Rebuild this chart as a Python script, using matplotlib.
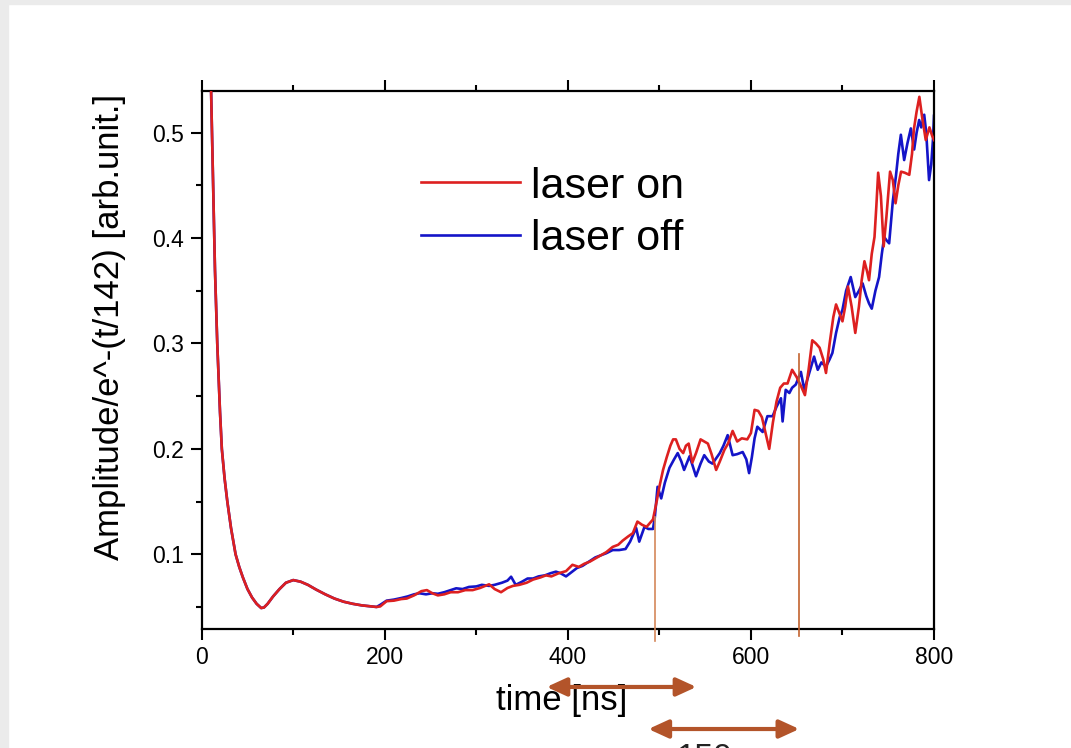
import matplotlib
matplotlib.use("Agg")
import matplotlib.pyplot as plt
from matplotlib.ticker import MultipleLocator
from matplotlib.patches import Rectangle

plt.rcParams['font.family'] = ['Liberation Sans', 'DejaVu Sans']

# shared decay at early times (both measurements coincide)
t_early = [9.5, 12, 14.5, 17, 20, 22, 25, 28, 32, 37, 41, 45, 50, 55, 60, 65, 68,
           72, 78, 85, 92, 100, 108, 116, 125, 135, 145, 155, 165, 175, 185, 191]
v_early = [0.57, 0.47, 0.37, 0.30, 0.235, 0.20, 0.172, 0.150, 0.125, 0.100, 0.088,
           0.078, 0.067, 0.059, 0.053, 0.049, 0.0495, 0.053, 0.060, 0.067, 0.073,
           0.0755, 0.074, 0.071, 0.0665, 0.062, 0.058, 0.055, 0.053, 0.0515, 0.0505, 0.050]

# laser on
t_on = [195, 202, 210, 218, 224, 232, 240, 246, 252, 258, 265, 272, 280, 288, 296,
        304, 314, 320, 327, 334, 340, 347, 355, 362, 370, 376, 382, 390, 398, 405,
        412, 418, 424, 430, 436, 442, 449, 455, 460, 466, 471, 476, 481, 486, 490,
        493, 497, 500, 504, 508, 512, 515, 518, 522, 526, 529, 532, 536, 540, 545,
        549, 553, 557, 562, 566, 571, 575, 580, 585, 590, 596, 600, 604, 608, 612,
        616, 620, 624, 628, 632, 636, 640, 645, 650, 655, 659, 663, 667, 671, 675,
        679, 682, 686, 690, 693, 697, 700, 703, 706, 710, 714, 718, 721, 724, 727,
        729, 732, 735, 737, 739, 742, 745, 748, 752, 755, 758, 761, 764, 768, 773,
        776, 778, 781, 784, 787, 791, 795, 798, 800]
v_on = [0.0505, 0.0555, 0.056, 0.0575, 0.058, 0.061, 0.065, 0.066, 0.063, 0.061,
        0.062, 0.064, 0.064, 0.066, 0.066, 0.068, 0.0715, 0.067, 0.064, 0.068, 0.070,
        0.071, 0.073, 0.076, 0.078, 0.080, 0.079, 0.082, 0.084, 0.090, 0.088, 0.091,
        0.093, 0.096, 0.099, 0.102, 0.107, 0.109, 0.113, 0.117, 0.120, 0.131, 0.128,
        0.126, 0.130, 0.133, 0.150, 0.164, 0.180, 0.192, 0.203, 0.209, 0.209, 0.200,
        0.196, 0.203, 0.205, 0.187, 0.196, 0.209, 0.207, 0.205, 0.195, 0.180, 0.188,
        0.199, 0.205, 0.217, 0.207, 0.210, 0.209, 0.215, 0.237, 0.236, 0.230, 0.215,
        0.200, 0.225, 0.245, 0.258, 0.262, 0.262, 0.275, 0.268, 0.259, 0.251, 0.275,
        0.303, 0.300, 0.296, 0.285, 0.272, 0.300, 0.325, 0.337, 0.328, 0.321, 0.335,
        0.354, 0.335, 0.310, 0.335, 0.360, 0.378, 0.368, 0.360, 0.385, 0.401, 0.430,
        0.462, 0.440, 0.392, 0.420, 0.463, 0.455, 0.433, 0.450, 0.463, 0.462, 0.460,
        0.480, 0.503, 0.520, 0.534, 0.515, 0.493, 0.505, 0.497, 0.493]

# laser off
t_off = [195, 202, 210, 218, 225, 232, 238, 245, 252, 258, 265, 272, 278, 285, 292,
         300, 306, 314, 320, 328, 334, 338, 343, 350, 356, 362, 368, 375, 381, 387,
         392, 398, 404, 410, 416, 423, 430, 436, 442, 449, 456, 463, 468, 474.6, 478,
         483.7, 488, 493, 495, 498, 502, 506, 511, 516, 520, 524, 527, 533, 537, 540,
         545, 549, 554, 558, 562, 566, 570, 574.6, 580, 585, 591, 595, 598, 601, 604,
         607, 612.8, 618, 623.7, 628, 632.8, 634.6, 638, 642, 645, 649, 654.6, 658.3,
         663, 669, 673, 677, 682, 686, 689, 693, 697, 700, 704, 709, 714, 718, 722,
         726, 729, 732, 736, 740, 743, 745.6, 748, 751, 755, 758.3, 761, 763.8, 767.4,
         771, 774.7, 778.3, 781, 783.8, 786, 789.3, 791.5, 794.6, 797, 799, 800]
v_off = [0.052, 0.056, 0.057, 0.0585, 0.060, 0.062, 0.063, 0.062, 0.063, 0.0625,
         0.064, 0.066, 0.0677, 0.067, 0.069, 0.0695, 0.071, 0.070, 0.071, 0.073,
         0.075, 0.0787, 0.071, 0.074, 0.077, 0.077, 0.079, 0.080, 0.082, 0.0835,
         0.082, 0.079, 0.083, 0.087, 0.089, 0.093, 0.097, 0.099, 0.101, 0.104, 0.104,
         0.105, 0.112, 0.125, 0.112, 0.126, 0.124, 0.124, 0.135, 0.164, 0.153, 0.168,
         0.182, 0.190, 0.196, 0.188, 0.180, 0.193, 0.182, 0.174, 0.186, 0.194, 0.188,
         0.186, 0.191, 0.196, 0.203, 0.213, 0.194, 0.195, 0.197, 0.190, 0.177, 0.192,
         0.210, 0.221, 0.216, 0.231, 0.231, 0.240, 0.248, 0.226, 0.256, 0.253, 0.258,
         0.261, 0.273, 0.256, 0.270, 0.2875, 0.275, 0.282, 0.278, 0.285, 0.291, 0.310,
         0.325, 0.332, 0.350, 0.363, 0.344, 0.350, 0.357, 0.345, 0.338, 0.333, 0.350,
         0.363, 0.385, 0.401, 0.398, 0.395, 0.435, 0.458, 0.480, 0.498, 0.474, 0.490,
         0.504, 0.484, 0.500, 0.512, 0.505, 0.517, 0.500, 0.455, 0.470, 0.495, 0.516]

# markers for the interval between the two step positions
marker_t = [495.7, 652.8]
marker_top = [0.135, 0.29]
interval_label = "150"

W, H = 1071, 748
fig = plt.figure(figsize=(W / 100, H / 100), dpi=100)
fig.patch.set_facecolor('white')
fig.patches.append(Rectangle((0, 0), 8 / W, 1, transform=fig.transFigure,
                             color='#ebebeb', zorder=0))
fig.patches.append(Rectangle((0, 1 - 4 / H), 1, 4 / H, transform=fig.transFigure,
                             color='#ebebeb', zorder=0))

ax = fig.add_axes([201.7 / W, 1 - 629 / H, (934 - 201.7) / W, (629 - 90.7) / H])

red = '#dd2020'
blue = '#1414c8'
ax.plot(t_early + t_on, v_early + v_on, color=red, lw=1.9, label='laser on', zorder=3)
ax.plot(t_early + t_off, v_early + v_off, color=blue, lw=1.9, label='laser off', zorder=2)

ax.set_xlim(0, 800)
ax.set_ylim(0.0291, 0.5398)

ax.xaxis.set_major_locator(MultipleLocator(200))
ax.xaxis.set_minor_locator(MultipleLocator(100))
ax.yaxis.set_major_locator(MultipleLocator(0.1))
ax.yaxis.set_minor_locator(MultipleLocator(0.05))
ax.tick_params(which='both', direction='out', width=1.5, top=True, right=False,
               labelsize=16.5, pad=4.5)
ax.tick_params(which='major', length=8)
ax.tick_params(which='minor', length=4)
for s in ax.spines.values():
    s.set_linewidth(1.6)

ax.set_xlabel('time [ns]', fontsize=25, va='center')
ax.xaxis.set_label_coords(0.491, -0.132)
ax.set_ylabel('Amplitude/e^-(t/142) [arb.unit.]', fontsize=25, va='center')
ax.yaxis.set_label_coords(-0.126, 0.562)

leg = ax.legend(loc='center left', bbox_to_anchor=(421 / W, 1 - 213 / H),
                bbox_transform=fig.transFigure, frameon=False, fontsize=31,
                handlelength=2.3, handletextpad=0.25, labelspacing=0.3,
                borderpad=0, borderaxespad=0)

# vertical markers at the step positions
mcolors = ['#d4875a', '#c2622e']
mbottom = [0.0177, 0.0225]
for t, top, bot, c in zip(marker_t, marker_top, mbottom, mcolors):
    ax.plot([t, t], [bot, top], color=c, lw=1.2, clip_on=False, zorder=4)

# interval arrows below the axis
acol = '#b3542a'
xt = ax.get_xaxis_transform()
arrow_style = dict(arrowstyle='<|-|>,head_length=1.2,head_width=0.55',
                   color=acol, lw=3, mutation_scale=10, shrinkA=0, shrinkB=0)
ax.annotate('', xy=(540.4, -0.1077), xytext=(376.8, -0.1077), xycoords=xt,
            textcoords=xt, arrowprops=arrow_style, annotation_clip=False)
ax.annotate('', xy=(marker_t[1], -0.1858), xytext=(488.0, -0.1858), xycoords=xt,
            textcoords=xt, arrowprops=arrow_style, annotation_clip=False)
ax.text(549, -0.257, interval_label, transform=xt, fontsize=24, ha='center',
        va='baseline', color='#222222', clip_on=False)

fig.savefig('out.png', dpi=100)
